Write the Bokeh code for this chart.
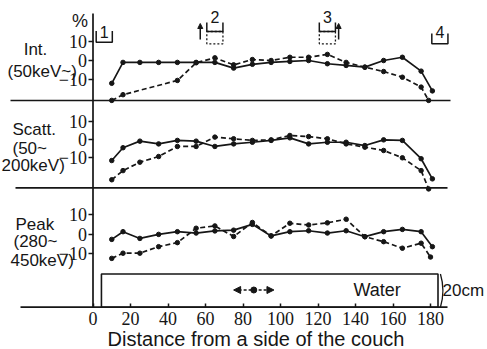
from bokeh.plotting import figure
from bokeh.models import Range1d, LinearAxis, FixedTicker, Arrow, NormalHead
from bokeh.core.properties import value
from bokeh.embed import file_html
from bokeh.resources import INLINE

# ---------------- data (percent deviation vs. distance in cm) ----------------
x_solid = [10, 16, 25, 35, 45, 55, 65, 75, 85, 95, 105, 115, 125, 135, 145, 155, 165, 175, 181]

int_solid = [-12, -1, -1, -1, -1, -1, -1, -4, -2, -1, -0.5, 0, -1.7, -2.6, -3.5, 0, 1.7, -5.6, -16]
int_dash_x = [10, 16, 45, 55, 65, 75, 85, 95, 105, 115, 125, 135, 145, 155, 165, 175, 179]
int_dash = [-21, -18, -10.5, -1.2, 1.4, -2.3, 0.5, 0, 1.7, 1.7, 3.2, -1, -3.5, -5.8, -8.8, -14, -21]

scatt_solid = [-11.5, -4.5, -0.9, -2.4, -0.5, -0.9, -3.8, -2.4, -1.5, -0.5, 0.9, -2.4, -1.5, -1.5, -3.3, -0.2, -0.5, -10.5, -21.5]
scatt_dash_x = [10, 16, 25, 35, 45, 55, 65, 75, 85, 95, 105, 115, 125, 135, 145, 155, 165, 175, 179]
scatt_dash = [-22, -17, -12.4, -9.3, -3.8, -3.8, 1.3, 0.4, -0.5, -0.2, 2.2, 1.6, 0.4, -2.4, -4.2, -6, -10, -17, -27]

peak_solid = [-2.8, 1.2, -2.3, -0.2, 1.2, 0.5, 1.6, 2, 5, -1, 1.2, 1.7, 0.5, 1.7, -1.4, 1.2, 2.4, 1.2, -6.6]
peak_dash_x = [10, 16, 25, 35, 45, 55, 65, 75, 85, 95, 105, 115, 125, 135, 145, 155, 165, 175, 180]
peak_dash = [-12.7, -10, -10, -6.6, -4.5, 3, 4.2, -1.3, 6, -1, 5.6, 4.7, 5.8, 7.7, -1.4, -4, -7.4, -4.8, -12]

x_ticks = [0, 20, 40, 60, 80, 100, 120, 140, 160, 180]
y_ticks = [-10, 0, 10]
panel_names = ["Int.", "Scatt.", "Peak"]
panel_sub = [["(50keV~)"], ["(50~", "200keV)"], ["(280~", "450keV)"]]
detector_x = [6, 65, 125, 185]
detector_names = ["1", "2", "3", "4"]
water_cm = [4.5, 184]
water_arrow_cm = [75, 96.5]
x_title = "Distance from a side of the couch"

# ---------------- layout ----------------
W, H = 487, 349
INK = "#161616"
X0_PX, SX = 92.5, 1.875            # pixel of x=0 and pixels per cm
# (range name, pixel row of 0 %, pixels per %)
panels = [("p1", 60.0, 1.9), ("p2", 139.0, 1.83), ("p3", 233.5, 1.92)]
AXIS_ROW = 306.7
SANS = value("Liberation Sans")
NARROW_NAME = "Liberation Sans Narrow"

p = figure(width=W, height=H,
           x_range=Range1d(-X0_PX / SX, (W - X0_PX) / SX),
           y_range=Range1d(H, 0),
           x_axis_location=None, y_axis_location=None,
           toolbar_location=None, output_backend="svg",
           min_border=0, outline_line_color=None,
           background_fill_color="white", border_fill_color="white")
p.grid.visible = False
p.extra_x_ranges = {"px": Range1d(0, W)}
p.extra_y_ranges = {name: Range1d((r0 - H) / s, r0 / s) for name, r0, s in panels}

series = [(x_solid, int_solid, int_dash_x, int_dash),
          (x_solid, scatt_solid, scatt_dash_x, scatt_dash),
          (x_solid, peak_solid, peak_dash_x, peak_dash)]

for (name, r0, s), (xs, ys, xd, yd) in zip(panels, series):
    p.line(xs, ys, y_range_name=name, line_color=INK, line_width=1.7)
    p.scatter(xs, ys, y_range_name=name, size=4.5, color=INK)
    p.line(xd, yd, y_range_name=name, line_color=INK, line_width=1.7, line_dash="5 3")
    p.scatter(xd, yd, y_range_name=name, size=4.5, color=INK)
    ax = LinearAxis(y_range_name=name, fixed_location=0,
                    ticker=FixedTicker(ticks=y_ticks, minor_ticks=[]),
                    axis_line_color=None,
                    major_tick_line_color=INK, major_tick_line_width=1.5,
                    major_tick_in=0, major_tick_out=5,
                    minor_tick_line_color=None, major_label_standoff=1,
                    major_label_text_font=NARROW_NAME, major_label_text_font_size="18px",
                    major_label_text_color=INK)
    p.add_layout(ax, "left")

xa = LinearAxis(fixed_location=AXIS_ROW, ticker=FixedTicker(ticks=x_ticks, minor_ticks=[]),
                axis_line_color=None,
                major_tick_line_color=INK, major_tick_line_width=1.5,
                major_tick_in=4, major_tick_out=0, minor_tick_line_color=None,
                major_label_standoff=5,
                major_label_text_font=NARROW_NAME, major_label_text_font_size="18px",
                major_label_text_color=INK)
p.add_layout(xa, "below")

# rules: panel separators, bottom axis line, vertical axis line
p.segment(x0=[10, 15, 20], y0=[100, 187.3, AXIS_ROW], x1=[450, 447, 447],
          y1=[100, 187.3, AXIS_ROW], x_range_name="px", line_color=INK, line_width=1.7)
p.segment(x0=[0], y0=[13], x1=[0], y1=[AXIS_ROW], line_color=INK, line_width=1.7)

# water phantom
p.quad(left=[water_cm[0]], right=[water_cm[1]], top=[273.5], bottom=[AXIS_ROW],
       fill_color=None, line_color=INK, line_width=1.6)
arr = Arrow(x_start=water_arrow_cm[0], x_end=water_arrow_cm[1], y_start=289.5, y_end=289.5,
            line_color=INK, line_width=1.5, line_dash="3 2",
            start=NormalHead(size=7, fill_color=INK, line_color=INK),
            end=NormalHead(size=7, fill_color=INK, line_color=INK))
p.add_layout(arr)
p.scatter([sum(water_arrow_cm) / 2], [289.5], size=6, color=INK)
p.bezier(x0=[water_cm[1] + 1.3], y0=[273.5], x1=[water_cm[1] + 1.3], y1=[AXIS_ROW],
         cx0=[water_cm[1] + 3.0], cy0=[284], cx1=[water_cm[1] + 3.0], cy1=[296],
         line_color=INK, line_width=1.3)
p.text(x=[353], y=[289], text=["Water"], x_range_name="px", text_font=SANS,
       text_font_size="18px", text_baseline="middle", text_color=INK)
p.text(x=[442], y=[290], text=["20cm"], x_range_name="px", text_font=SANS,
       text_font_size="17px", text_baseline="middle", text_color=INK)

# detector symbols at the top
hw = 4.3
u_xs, u_ys = [], []
u_top = [30.5, 22, 22, 33]
u_bot = [41.7, 31, 31, 43.3]
num_row = [31, 16.5, 16.5, 31]
for dx, t, b in zip(detector_x, u_top, u_bot):
    u_xs.append([dx - hw, dx - hw, dx + hw, dx + hw])
    u_ys.append([t, b, b, t])
p.multi_line(u_xs, u_ys, line_color=INK, line_width=1.5)
for i in (1, 2):
    dx = detector_x[i]
    p.quad(left=[dx - hw], right=[dx + hw], top=[u_bot[i]], bottom=[43.3],
           fill_color=None, line_color=INK, line_width=1.3, line_dash="2 2")
    ax_x = dx - 7.8 if i == 1 else dx + 6.0
    p.add_layout(Arrow(x_start=ax_x, x_end=ax_x, y_start=39, y_end=23,
                       line_color=INK, line_width=1.5,
                       end=NormalHead(size=5, fill_color=INK, line_color=INK)))
p.text(x=detector_x, y=num_row, text=detector_names, text_font=SANS,
       text_font_size="16px", text_align="center", text_baseline="middle", text_color=INK)

# panel labels
p.text(x=[79.5], y=[20], text=["%"], x_range_name="px", text_font=SANS,
       text_font_size="18px", text_align="center", text_baseline="middle", text_color=INK)
label_x = [[35, 7], [12, 12, 1], [15, 13, 10]]
label_rows = [[48.5, 70.5], [128.5, 147.5, 164.5], [223.5, 240.5, 260]]
label_align = [["center", "left"], ["left", "left", "left"], ["left", "left", "left"]]
for nm, sub, lx, lr, la in zip(panel_names, panel_sub, label_x, label_rows, label_align):
    texts = [nm] + sub
    for t, x, r, a in zip(texts, lx, lr, la):
        p.text(x=[x], y=[r], text=[t], x_range_name="px", text_font=SANS,
               text_font_size="17px", text_align=a, text_baseline="middle", text_color=INK)

p.text(x=[255.5], y=[338], text=[x_title], x_range_name="px", text_font=SANS,
       text_font_size="20px", text_align="center", text_baseline="middle", text_color=INK)

open("out.html", "w").write(file_html(p, INLINE))
